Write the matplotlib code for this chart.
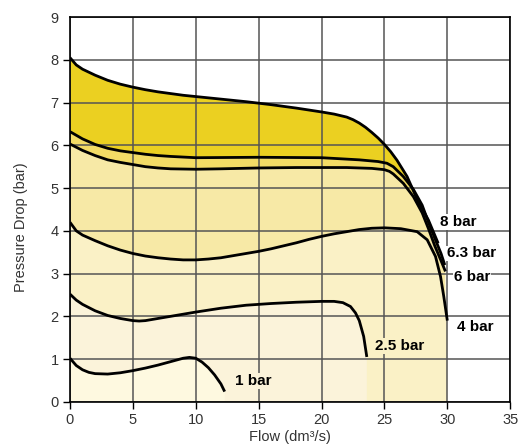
import numpy as np
import matplotlib.pyplot as plt

plt.rcParams['font.family'] = ['Liberation Sans', 'DejaVu Sans']

# pressure drop curves (flow dm3/s, pressure drop bar)
x8 = [0, 0.5, 1, 2, 3, 4, 5, 6, 7, 8, 9, 10, 12, 14, 16, 18, 20, 21, 22, 22.5,
      23, 23.5, 24, 24.5, 25, 25.5, 26, 26.8, 27.6, 28.5, 29.27]
y8 = [8.05, 7.88, 7.78, 7.64, 7.52, 7.43, 7.36, 7.30, 7.25, 7.21, 7.17, 7.14,
      7.08, 7.02, 6.95, 6.87, 6.78, 6.73, 6.66, 6.6, 6.52, 6.42, 6.3, 6.17,
      6.02, 5.85, 5.65, 5.27, 4.74, 4.25, 3.71]

x63 = [0, 1, 2, 3, 4, 5, 6, 7, 8, 10, 15, 20, 23, 24.5, 25.2, 25.7, 26.5, 27.3,
       28, 28.5, 29, 29.5, 29.8]
y63 = [6.32, 6.15, 6.02, 5.93, 5.87, 5.83, 5.79, 5.76, 5.74, 5.71, 5.72, 5.71,
       5.66, 5.62, 5.58, 5.5, 5.27, 4.97, 4.6, 4.2, 3.83, 3.47, 3.2]

x6 = [0, 1, 2, 3, 4, 5, 6, 7, 8, 10, 12, 15, 18, 20, 22, 24, 25, 25.4, 25.7,
      26.5, 27.3, 28, 28.5, 29, 29.5, 29.85]
y6 = [6.03, 5.88, 5.76, 5.66, 5.6, 5.55, 5.5, 5.47, 5.45, 5.44, 5.45, 5.47,
      5.48, 5.48, 5.48, 5.46, 5.43, 5.39, 5.33, 5.11, 4.8, 4.42, 4.05, 3.65,
      3.3, 3.05]

x4 = [0, 0.5, 1, 2, 3, 4, 5, 6, 7, 8, 9, 10, 11, 12, 13, 14, 15, 16, 17, 18,
      19, 20, 21, 22, 23, 24, 25, 26.3, 27.6, 28.4, 29.06, 29.46, 29.72, 30]
y4 = [4.2, 4.0, 3.9, 3.77, 3.65, 3.55, 3.47, 3.41, 3.37, 3.34, 3.32, 3.32,
      3.34, 3.37, 3.42, 3.47, 3.52, 3.58, 3.65, 3.72, 3.8, 3.87, 3.93, 3.98,
      4.03, 4.06, 4.07, 4.05, 3.98, 3.79, 3.4, 2.93, 2.46, 1.9]

x25 = [0, 0.5, 1, 2, 3, 4, 5, 5.5, 6, 7, 8, 9, 10, 12, 14, 16, 18, 20, 21,
       21.7, 22.3, 22.7, 23.0, 23.35, 23.6]
y25 = [2.52, 2.38, 2.28, 2.13, 2.02, 1.95, 1.9, 1.89, 1.9, 1.95, 2.0, 2.05,
       2.1, 2.19, 2.26, 2.3, 2.33, 2.35, 2.35, 2.32, 2.23, 2.08, 1.9, 1.53, 1.05]

x1 = [0, 0.5, 1, 1.5, 2, 3, 4, 5, 6, 7, 8, 9, 9.5, 10, 10.5, 11, 11.5, 12, 12.3]
y1 = [1.02, 0.85, 0.75, 0.69, 0.66, 0.65, 0.68, 0.73, 0.79, 0.86, 0.94, 1.02,
      1.04, 1.02, 0.93, 0.8, 0.63, 0.42, 0.24]

curves = [(x8, y8, '#ebd021', '8 bar'),
          (x63, y63, '#f3dc66', '6.3 bar'),
          (x6, y6, '#f7e9a6', '6 bar'),
          (x4, y4, '#faf1c6', '4 bar'),
          (x25, y25, '#fbf3da', '2.5 bar'),
          (x1, y1, '#fef9e0', '1 bar')]

# label positions (left edge, centre)
labelPos = {'8 bar': (29.45, 4.21), '6.3 bar': (29.95, 3.47), '6 bar': (30.55, 2.92),
            '4 bar': (30.75, 1.75), '2.5 bar': (24.25, 1.31), '1 bar': (13.1, 0.49)}
labelBg = {'8 bar': 'white', '6.3 bar': 'white', '6 bar': 'white',
           '4 bar': 'white', '2.5 bar': '#faf1c6', '1 bar': '#fbf3da'}

fig = plt.figure(figsize=(5.26, 4.48), dpi=100)
ax = fig.add_axes([0.133, 0.103, 0.837, 0.859])

for x, y, col, name in curves:
    xs = np.array([x[0]] + x + [x[-1]])
    ys = np.array([0] + y + [0])
    ax.fill(xs, ys, color=col, lw=0, zorder=1)

for x, y, col, name in curves:
    ax.plot(x, y, color='black', lw=2.0, zorder=3, solid_capstyle='butt',
            solid_joinstyle='round')
    tx, ty = labelPos[name]
    ax.text(tx, ty, name, fontsize=11, fontweight='bold', ha='left', va='center',
            zorder=4, bbox=dict(facecolor=labelBg[name], edgecolor='none', pad=0.5))

ax.set_xlim(0, 35)
ax.set_ylim(0, 9)
ax.set_xticks(np.arange(0, 36, 5))
ax.set_yticks(np.arange(0, 10, 1))
ax.set_axisbelow(False)
ax.grid(True, color='#555555', lw=1.1)
ax.tick_params(direction='out', length=5, width=1, color='black', labelsize=10.5,
               labelcolor='#333333', pad=3)
ax.yaxis.get_major_ticks()[-1].tick1line.set_visible(False)
for s in ax.spines.values():
    s.set_color('black')
    s.set_linewidth(1.2)
    s.set_zorder(5)

ax.set_xlabel('Flow (dm³/s)', fontsize=10.5, color='#333333')
ax.set_ylabel('Pressure Drop (bar)', fontsize=10.5, color='#333333')
ax.xaxis.set_label_coords(0.5, -0.072)
ax.yaxis.set_label_coords(-0.095, 0.455)

plt.savefig('out.png', dpi=100)
